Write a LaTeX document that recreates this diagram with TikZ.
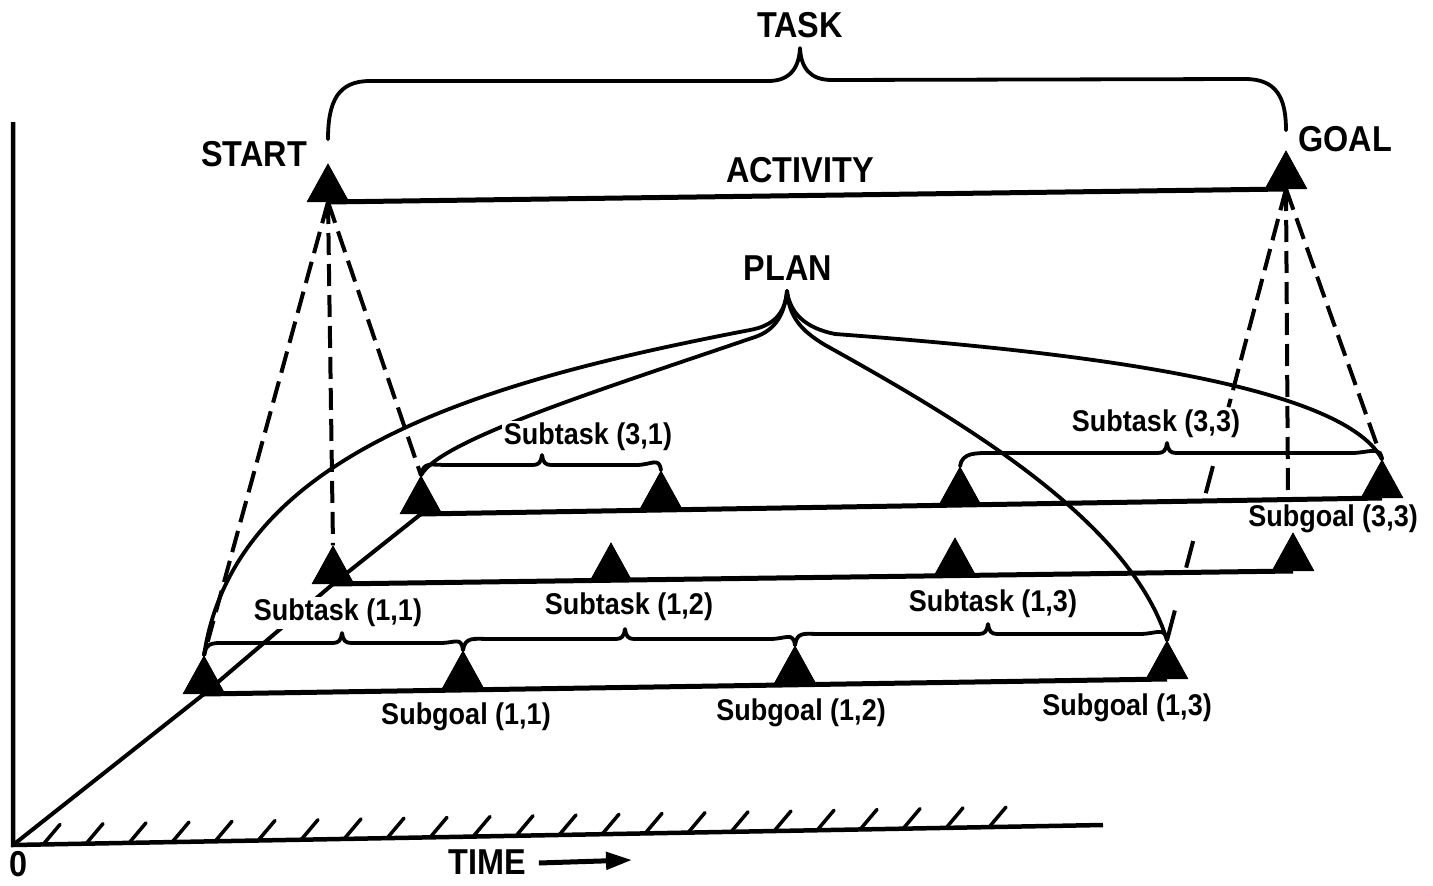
\documentclass[tikz,border=0pt]{standalone}
\usepackage{fontspec}
\newfontfamily\labfont[FakeStretch=0.9]{Liberation Sans}
\usetikzlibrary{shapes.geometric,calc,arrows.meta}
\newcommand\tbrace[6]{%
  \draw[brace] (#1.apex) .. controls +(2,-14) and +(-16,0) .. (#3,#6) -- (#4-9,#6)
    .. controls (#4-3,#6) and (#4-1,#6-3) .. (#4,#6-10)
    .. controls (#4+1,#6-3) and (#4+3,#6) .. (#4+9,#6) -- (#5,#6)
    .. controls +(16,0) and +(-2,-14) .. (#2.apex);}
\begin{document}
\begin{tikzpicture}[x=1pt,y=-1pt,
  tri/.style={isosceles triangle, isosceles triangle stretches, shape border rotate=90,
    fill=black, draw=none, inner sep=0pt, minimum width=42pt, minimum height=38pt, anchor=lower side},
  big/.style={font=\labfont\bfseries\fontsize{36}{40}\selectfont, inner sep=1pt},
  small/.style={font=\labfont\bfseries\fontsize{30}{34}\selectfont, inner sep=2pt},
  rowline/.style={line width=5pt},
  curve/.style={line width=3.8pt, line cap=round},
  brace/.style={line width=3.8pt, line cap=round, line join=round},
  dashline/.style={line width=4pt, dash pattern=on 22pt off 9pt},
  dashpiece/.style={line width=4pt},
  axis/.style={line width=4.5pt},
  hatch/.style={line width=3.5pt, line cap=round}
]
\useasboundingbox (0,0) rectangle (1433,886);

% axes
\coordinate (o) at (13,845);
\coordinate (ytop) at (13,122);
\coordinate (xend) at (1103,825);
\draw[axis] (ytop) -- (o) -- (xend);
\foreach \i in {0,...,22} {
  \pgfmathsetmacro\hx{44+43*\i}
  \pgfmathsetmacro\hy{845-(\hx-13)*0.01835}
  \draw[hatch] (\hx,\hy-1) -- (\hx+16,\hy-20);
}

% triangles
\node[tri] (start) at (328,202) {};
\node[tri] (goal) at (1286,189) {};
\node[tri] (t11) at (204,694) {};
\node[tri] (t12) at (463,689) {};
\node[tri] (t13) at (795,684) {};
\node[tri] (t14) at (1167,679) {};
\node[tri] (t21) at (333,584) {};
\node[tri] (t22) at (611,581) {};
\node[tri] (t23) at (955,576) {};
\node[tri] (t24) at (1293,571) {};
\node[tri] (t31) at (421,514) {};
\node[tri] (t32) at (661,509) {};
\node[tri] (t33) at (960,505) {};
\node[tri] (t34) at (1382,498) {};

% perspective line
\draw[line width=4pt] (o) -- (t11.lower side) -- (t21.lower side) -- (t31.lower side);

% time lines
\draw[rowline] (start.lower side) -- (goal.lower side);
\draw[rowline] (t11.lower side) -- (t14.lower side);
\draw[rowline] (t21.lower side) -- (t24.lower side);
\draw[rowline] (t31.lower side) -- (t34.lower side);

% big labels
\node[big] (task) at (800,25) {TASK};
\node[big] (startl) at (254,154) {START};
\node[big] (goall) at (1345,139) {GOAL};
\node[big] (activity) at (800,170) {ACTIVITY};
\node[big] (plan) at (788,268) {PLAN};
\coordinate (papex) at (787,291);

% plan curves
\draw[curve] (papex) .. controls +(-2,24) and +(22,-4) .. (750,330)
  .. controls (490,380) and (235,450) .. (t11.apex);
\draw[curve] (papex) .. controls +(-3,28) and +(20,-6) .. (752,338)
  .. controls (600,390) and (440,440) .. (t31.apex);
\draw[curve] (papex) .. controls +(2,25) and +(-25,-15) .. (825,345)
  .. controls (960,420) and (1130,520) .. (t14.apex);
\draw[curve] (papex) .. controls +(3,22) and +(-30,-6) .. (835,334)
  .. controls (1050,350) and (1340,380) .. (t34.apex);

% dashed projection lines
\draw[dashline] (start.lower side) -- (t11.apex);
\draw[dashline] (start.lower side) -- (t21.apex);
\draw[dashline] (start.lower side) -- (t31.apex);
\coordinate (gv) at (1288,497);
\draw[dashline] (goal.lower side) -- (gv);
\draw[dashline] (goal.lower side) -- (t34.apex);
\path (goal.lower side) -- (t14.apex)
  coordinate[pos=0.4835] (gd1) coordinate[pos=0.614] (gd2) coordinate[pos=0.674] (gd3)
  coordinate[pos=0.780] (gd4) coordinate[pos=0.839] (gd5) coordinate[pos=0.934] (gd6);
\draw[dashline] (goal.lower side) -- (gd1);
\draw[dashpiece] (gd2) -- (gd3);
\draw[dashpiece] (gd4) -- (gd5);
\draw[dashpiece] (gd6) -- (t14.apex);

% braces
\draw[brace] ([yshift=24pt]start.apex) .. controls +(0,-38) and +(-32,0) .. (370,81) -- (768,81)
  .. controls (790,81) and (799,68) .. (800,48)
  .. controls (801,68) and (810,80) .. (832,80) -- (1245,79)
  .. controls +(32,0) and +(0,-32) .. ([yshift=20pt]goal.apex);
\tbrace{t11}{t12}{230}{342}{440}{643}
\tbrace{t12}{t13}{490}{625}{770}{639}
\tbrace{t13}{t14}{820}{988}{1140}{634}
\tbrace{t31}{t32}{447}{542}{636}{465}
\tbrace{t33}{t34}{992}{1167}{1352}{453}

% redraw triangles on top
\foreach \n in {start,goal,t11,t12,t13,t14,t21,t22,t23,t24,t31,t32,t33,t34}
  \fill (\n.apex) -- (\n.left corner) -- (\n.right corner) -- cycle;

% small labels
\node[small, fill=white] (s31) at (588,437) {Subtask (3,1)};
\node[small, fill=white] (s33) at (1156,424) {Subtask (3,3)};
\node[small, fill=white] (s11) at (338,613) {Subtask (1,1)};
\node[small, fill=white] (s12) at (629,607) {Subtask (1,2)};
\node[small, fill=white] (s13) at (993,604) {Subtask (1,3)};
\node[small] (g11) at (466,717) {Subgoal (1,1)};
\node[small] (g12) at (801,713) {Subgoal (1,2)};
\node[small] (g13) at (1127,708) {Subgoal (1,3)};
\node[small] (g33) at (1333,519) {Subgoal (3,3)};

% time
\node[big] (zero) at (19,864) {0};
\node[big] (time) at (487,862) {TIME};
\coordinate (timeend) at (632,860);
\draw[line width=5pt, -{Triangle[length=26pt,width=17pt]}] ([xshift=12pt,yshift=-1pt]time.east) -- (timeend);
\end{tikzpicture}
\end{document}
